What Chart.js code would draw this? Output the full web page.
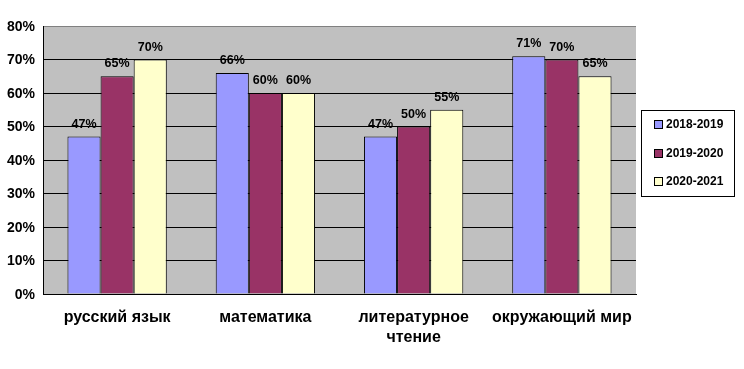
<!DOCTYPE html>
<html><head><meta charset="utf-8">
<script src="https://cdn.jsdelivr.net/npm/chart.js@4.4.1/dist/chart.umd.min.js"></script>
<style>html,body{margin:0;padding:0;background:#fff}#wrap{width:744px;height:369px}</style>
</head><body><div id="wrap"><canvas id="c" width="744" height="369"></canvas></div>
<script>
const categories = [['русский язык'], ['математика'], ['литературное', 'чтение'], ['окружающий мир']];
const seriesNames = ['2018-2019', '2019-2020', '2020-2021'];
const values2018 = [47, 66, 47, 71];
const values2019 = [65, 60, 50, 70];
const values2020 = [70, 60, 55, 65];
const colors = ['#9999FF', '#993366', '#FFFFCC'];
const FONT = '"Liberation Sans", Arial, sans-serif';

const plotBg = {
  id: 'plotBg',
  beforeDraw(chart) {
    const a = chart.chartArea, ctx = chart.ctx;
    ctx.save(); ctx.fillStyle = '#C0C0C0';
    ctx.fillRect(a.left, a.top, a.right - a.left, a.bottom - a.top);
    ctx.restore();
  }
};
const dataLabels = {
  id: 'dataLabels',
  afterDatasetsDraw(chart) {
    const ctx = chart.ctx;
    ctx.save();
    ctx.font = 'bold 12.5px ' + FONT;
    ctx.fillStyle = '#000'; ctx.textAlign = 'center'; ctx.textBaseline = 'bottom';
    chart.data.datasets.forEach((ds, i) => {
      chart.getDatasetMeta(i).data.forEach((el, j) => {
        ctx.fillText(ds.data[j] + '%', el.x, el.y - 6);
      });
    });
    ctx.restore();
  }
};
const boxLegend = {
  id: 'boxLegend',
  afterDraw(chart) {
    const ctx = chart.ctx;
    ctx.save();
    ctx.fillStyle = '#fff'; ctx.fillRect(641, 110, 94, 87);
    ctx.strokeStyle = '#000'; ctx.lineWidth = 1; ctx.strokeRect(641.5, 110.5, 93, 86);
    ctx.font = 'bold 12px ' + FONT; ctx.textBaseline = 'middle'; ctx.textAlign = 'left';
    const ys = [124, 153, 181];
    chart.data.datasets.forEach((ds, i) => {
      ctx.fillStyle = ds.backgroundColor;
      ctx.fillRect(654, ys[i] - 4, 9, 9);
      ctx.strokeStyle = '#000'; ctx.strokeRect(654.5, ys[i] - 3.5, 8, 8);
      ctx.fillStyle = '#000';
      ctx.fillText(ds.label, 666, ys[i] + 1);
    });
    ctx.restore();
  }
};

new Chart(document.getElementById('c'), {
  type: 'bar',
  data: {
    labels: categories,
    datasets: [
      { label: seriesNames[0], data: values2018, backgroundColor: colors[0] },
      { label: seriesNames[1], data: values2019, backgroundColor: colors[1] },
      { label: seriesNames[2], data: values2020, backgroundColor: colors[2] }
    ].map(d => Object.assign(d, { borderColor: '#000', borderWidth: 1, categoryPercentage: 0.67, barPercentage: 1 }))
  },
  options: {
    responsive: false, animation: false,
    layout: { padding: { top: 26, right: 108, left: 0, bottom: 0 } },
    plugins: { legend: { display: false }, tooltip: { enabled: false } },
    scales: {
      x: {
        grid: { display: false, drawTicks: false },
        border: { color: '#000' },
        ticks: { color: '#000', font: { family: FONT, size: 16, weight: 'bold', lineHeight: 1.25 }, padding: 14, maxRotation: 0, autoSkip: false },
        afterFit(s) { s.height = 75; }
      },
      y: {
        min: 0, max: 80,
        grid: { color: c => c.tick && c.tick.value === 80 ? '#808080' : '#000', drawTicks: false },
        border: { color: '#000' },
        ticks: { stepSize: 10, color: '#000', padding: 8, labelOffset: 1, font: { family: FONT, size: 14, weight: 'bold' }, callback: v => v + '%' },
        afterFit(s) { s.width = 43; }
      }
    }
  },
  plugins: [plotBg, dataLabels, boxLegend]
});
</script></body></html>
